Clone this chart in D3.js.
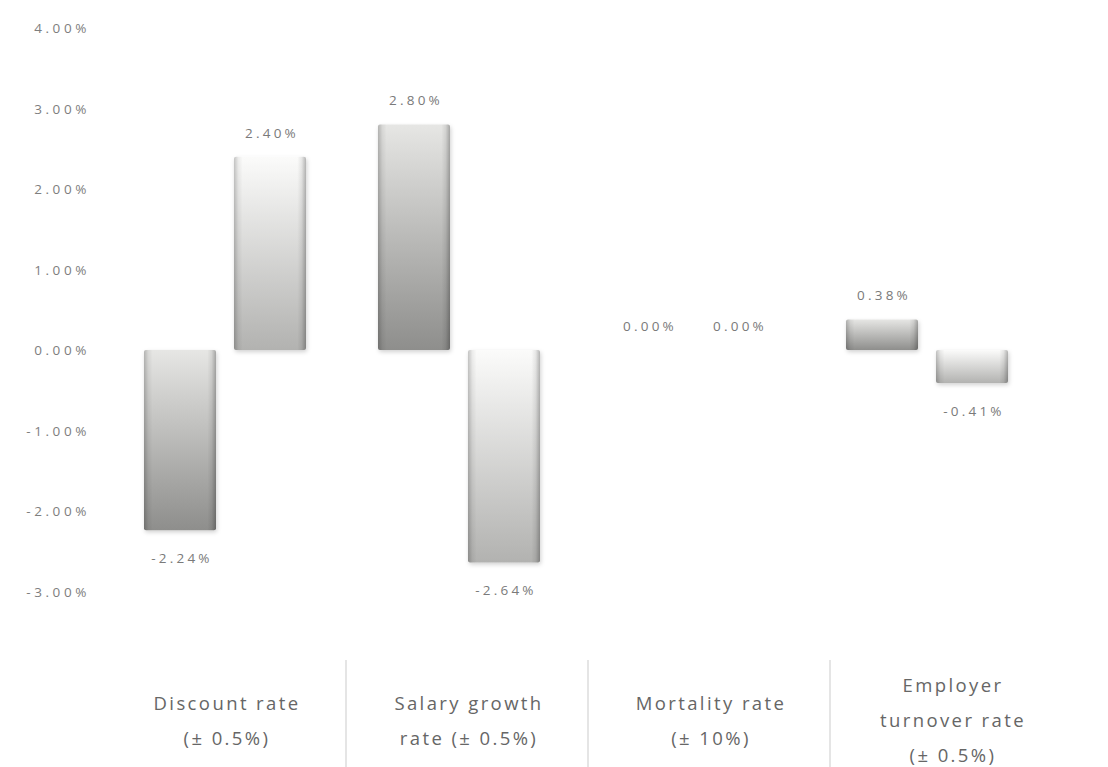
<!DOCTYPE html>
<html>
<head>
<meta charset="utf-8">
<script src="https://cdn.jsdelivr.net/npm/d3@7"></script>
<style>
  html, body { margin: 0; padding: 0; background: #ffffff; }
  svg { display: block; }
  text { font-family: "Open Sans", "DejaVu Sans", sans-serif; }
</style>
</head>
<body>
<svg id="chart" width="1108" height="767"></svg>
<script>
// Sensitivity of the obligation to each actuarial assumption
const categories = ["Discount rate", "Salary growth rate", "Mortality rate", "Employer turnover rate"];
const categoryLines = [
  ["Discount rate", "(± 0.5%)"],
  ["Salary growth", "rate (± 0.5%)"],
  ["Mortality rate", "(± 10%)"],
  ["Employer", "turnover rate", "(± 0.5%)"]
];
const seriesNames = ["increase", "decrease"];
const increaseValues = [-2.24, 2.80, 0.00, 0.38];
const decreaseValues = [2.40, -2.64, 0.00, -0.41];
const tickValues = [-3, -2, -1, 0, 1, 2, 3, 4];

const svg = d3.select("#chart");
const defs = svg.append("defs");

// vertical shading: darker series first, lighter series second
const shades = [
  { id: "g0", top: "#e6e6e4", bottom: "#8e8e8c" },
  { id: "g1", top: "#fbfbfa", bottom: "#b2b2b0" }
];
shades.forEach(s => {
  const g = defs.append("linearGradient").attr("id", s.id)
    .attr("x1", 0).attr("y1", 0).attr("x2", 0).attr("y2", 1);
  g.append("stop").attr("offset", "0%").attr("stop-color", s.top);
  g.append("stop").attr("offset", "100%").attr("stop-color", s.bottom);
});
// bevelled side edges
const edge = defs.append("linearGradient").attr("id", "edge")
  .attr("x1", 0).attr("y1", 0).attr("x2", 1).attr("y2", 0);
[["0%", 0.22], ["6%", 0.06], ["12%", 0], ["88%", 0], ["94%", 0.08], ["100%", 0.28]]
  .forEach(([o, a]) => edge.append("stop").attr("offset", o)
    .attr("stop-color", "#000").attr("stop-opacity", a));

const shadow = defs.append("filter").attr("id", "shadow")
  .attr("x", "-10%").attr("y", "-10%").attr("width", "130%").attr("height", "130%");
shadow.append("feDropShadow").attr("dx", 1).attr("dy", 2).attr("stdDeviation", 2)
  .attr("flood-color", "#000").attr("flood-opacity", 0.18);

// scales
const y = d3.scaleLinear().domain([-3, 4]).range([591.5, 28]);
const xBars = d3.scaleBand().domain(categories).range([108, 1044]);
const xInner = d3.scaleBand().domain(seriesNames).range([-81, 81]).paddingInner(0.2);
const xLabels = d3.scaleBand().domain(categories).range([104, 1072]);

// plain hyphen for negatives, two decimals
const fmt = v => v.toFixed(2) + "%";

// y axis labels (no axis line)
const yAxis = d3.axisLeft(y).tickValues(tickValues).tickSize(0).tickPadding(0).tickFormat(fmt);
const yG = svg.append("g").attr("transform", "translate(90,0)").call(yAxis);
yG.select(".domain").remove();
yG.selectAll("text")
  .attr("fill", "#7e7e7e")
  .style("font-size", "13.5px")
  .style("letter-spacing", "3.6px")
  .attr("dy", "0.35em");

// bars
const rows = categories.map((c, i) => ({
  cat: c,
  items: [
    { s: seriesNames[0], v: increaseValues[i], k: 0 },
    { s: seriesNames[1], v: decreaseValues[i], k: 1 }
  ]
}));

const groups = svg.append("g").selectAll("g").data(rows).join("g")
  .attr("transform", d => `translate(${xBars(d.cat) + xBars.bandwidth() / 2},0)`);

const bars = groups.selectAll("g.bar").data(d => d.items).join("g").attr("class", "bar");
bars.filter(d => d.v !== 0).append("rect")
  .attr("x", d => xInner(d.s))
  .attr("y", d => y(Math.max(0, d.v)))
  .attr("width", xInner.bandwidth())
  .attr("height", d => Math.abs(y(d.v) - y(0)))
  .attr("rx", 2)
  .attr("fill", d => `url(#${shades[d.k].id})`)
  .attr("filter", "url(#shadow)");
bars.filter(d => d.v !== 0).append("rect")
  .attr("x", d => xInner(d.s))
  .attr("y", d => y(Math.max(0, d.v)))
  .attr("width", xInner.bandwidth())
  .attr("height", d => Math.abs(y(d.v) - y(0)))
  .attr("rx", 2)
  .attr("fill", "url(#edge)");

// value labels
bars.append("text")
  .attr("x", d => xInner(d.s) + xInner.bandwidth() / 2 + 2)
  .attr("y", d => d.v >= 0 ? y(d.v) - 24 : y(d.v) + 28)
  .attr("dy", "0.35em")
  .attr("text-anchor", "middle")
  .attr("fill", "#7a7a7a")
  .style("font-size", "13.5px")
  .style("letter-spacing", "3.2px")
  .text(d => fmt(d.v));

// category labels beneath the chart
const lab = svg.append("g");
const lineGap = 35;
const blockMid = 721;
lab.selectAll("text").data(categories).join("text")
  .attr("text-anchor", "middle")
  .attr("fill", "#666666")
  .style("font-size", "18.5px")
  .style("letter-spacing", "2.4px")
  .each(function (c, i) {
    const lines = categoryLines[i];
    const cx = xLabels(c) + xLabels.bandwidth() / 2 + 2;
    const start = blockMid - (lines.length - 1) * lineGap / 2;
    d3.select(this).selectAll("tspan").data(lines).join("tspan")
      .attr("x", cx)
      .attr("y", (l, j) => start + j * lineGap)
      .attr("dy", "0.35em")
      .text(l => l);
  });

// separators between the category labels
lab.selectAll("line").data(categories.slice(1)).join("line")
  .attr("x1", c => xLabels(c))
  .attr("x2", c => xLabels(c))
  .attr("y1", 660)
  .attr("y2", 767)
  .attr("stroke", "#dcdcdc")
  .attr("stroke-width", 1.5);
</script>
</body>
</html>
